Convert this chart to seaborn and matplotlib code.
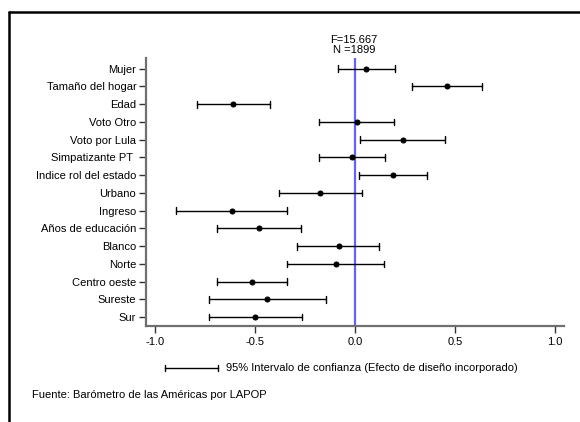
import matplotlib
matplotlib.use("Agg")
import matplotlib.pyplot as plt
from matplotlib.lines import Line2D
import seaborn as sns
import pandas as pd

categories = ["Mujer", "Tamaño del hogar", "Edad", "Voto Otro", "Voto por Lula",
              "Simpatizante PT ", "Indice rol del estado", "Urbano", "Ingreso",
              "Años de educación", "Blanco", "Norte", "Centro oeste", "Sureste", "Sur"]
estimate = [0.057, 0.458, -0.608, 0.008, 0.238, -0.017, 0.192, -0.173, -0.617,
            -0.482, -0.080, -0.097, -0.513, -0.438, -0.498]
ci_low = [-0.083, 0.283, -0.790, -0.180, 0.025, -0.180, 0.020, -0.382, -0.895,
          -0.688, -0.288, -0.338, -0.688, -0.728, -0.728]
ci_high = [0.200, 0.637, -0.425, 0.197, 0.450, 0.150, 0.358, 0.035, -0.338,
           -0.270, 0.122, 0.147, -0.338, -0.147, -0.267]
xticks = [-1.0, -0.5, 0.0, 0.5, 1.0]
xticklabels = ["-1.0", "-0.5", "0.0", "0.5", "1.0"]
stat_text = "F=15.667\nN =1899"
legend_text = "95% Intervalo de confianza (Efecto de diseño incorporado)"
source_text = "Fuente: Barómetro de las Américas por LAPOP"

# long-form: each category gets its low, estimate and high; median -> estimate, pi 100 -> CI
rows = []
for c, lo, e, hi in zip(categories, ci_low, estimate, ci_high):
    for v in (lo, e, hi):
        rows.append({"cat": c, "val": v})
df = pd.DataFrame(rows)

sns.set_theme(style="white")
plt.rcParams["font.family"] = ["Liberation Sans", "DejaVu Sans"]
plt.rcParams["font.size"] = 8
plt.rcParams["text.color"] = "black"
plt.rcParams["axes.labelcolor"] = "black"
plt.rcParams["xtick.color"] = "black"
plt.rcParams["ytick.color"] = "black"

W, H = 580, 422
fig = plt.figure(figsize=(W / 100, H / 100), dpi=100)
fig.patch.set_facecolor("white")
ax = fig.add_axes([146 / W, 1 - 326 / H, (564 - 146) / W, (326 - 58) / H])

sns.pointplot(data=df, x="val", y="cat", order=categories, estimator="median",
              errorbar=("pi", 100), linestyle="none", color="black",
              markersize=3.6, capsize=0.38, linewidth=1.0,
              err_kws={"linewidth": 1.0, "color": "black"}, ax=ax, zorder=3)

ax.axvline(0, color="#6262ff", linewidth=1.6, zorder=2)

ax.set_xlim(-1.045, 1.045)
ax.set_ylim(14.5, -0.6)
ax.set_xticks(xticks)
ax.set_xticklabels(xticklabels, fontsize=8, color="black")
ax.set_xlabel("")
ax.set_ylabel("")
ax.tick_params(axis="y", labelsize=8, length=5, width=1.0, color="#333333",
               labelcolor="black", left=True, pad=2)
ax.tick_params(axis="x", labelsize=8, length=5, width=1.0, color="#333333",
               labelcolor="black", bottom=True, pad=3)
for s in ["top", "right"]:
    ax.spines[s].set_visible(False)
for s in ["left", "bottom"]:
    ax.spines[s].set_color("#707070")
    ax.spines[s].set_linewidth(1.6)
ax.grid(False)

# stats annotation above the zero line
fig.text(354 / W, 1 - 45 / H, stat_text, ha="center", va="center",
         fontsize=8, linespacing=0.95, color="black")

# legend: CI bar sample + text
y_leg = 1 - 368 / H
fig.add_artist(Line2D([165 / W, 218 / W], [y_leg, y_leg], color="black", lw=1.0))
for xx in (165, 218):
    fig.add_artist(Line2D([xx / W, xx / W], [y_leg - 3 / H, y_leg + 3 / H],
                          color="black", lw=1.0))
fig.text(226 / W, y_leg, legend_text, ha="left", va="center", fontsize=8, color="black")

fig.text(32 / W, 1 - 395 / H, source_text, ha="left", va="center", fontsize=8,
         color="black")

# outer frame (left and top edges visible)
fig.add_artist(Line2D([8.5 / W, 8.5 / W], [0, 1 - 12 / H], color="black", lw=1.8))
fig.add_artist(Line2D([8.5 / W, 1], [1 - 12 / H, 1 - 12 / H], color="black", lw=1.8))

fig.savefig("out.png", dpi=100, facecolor="white")
